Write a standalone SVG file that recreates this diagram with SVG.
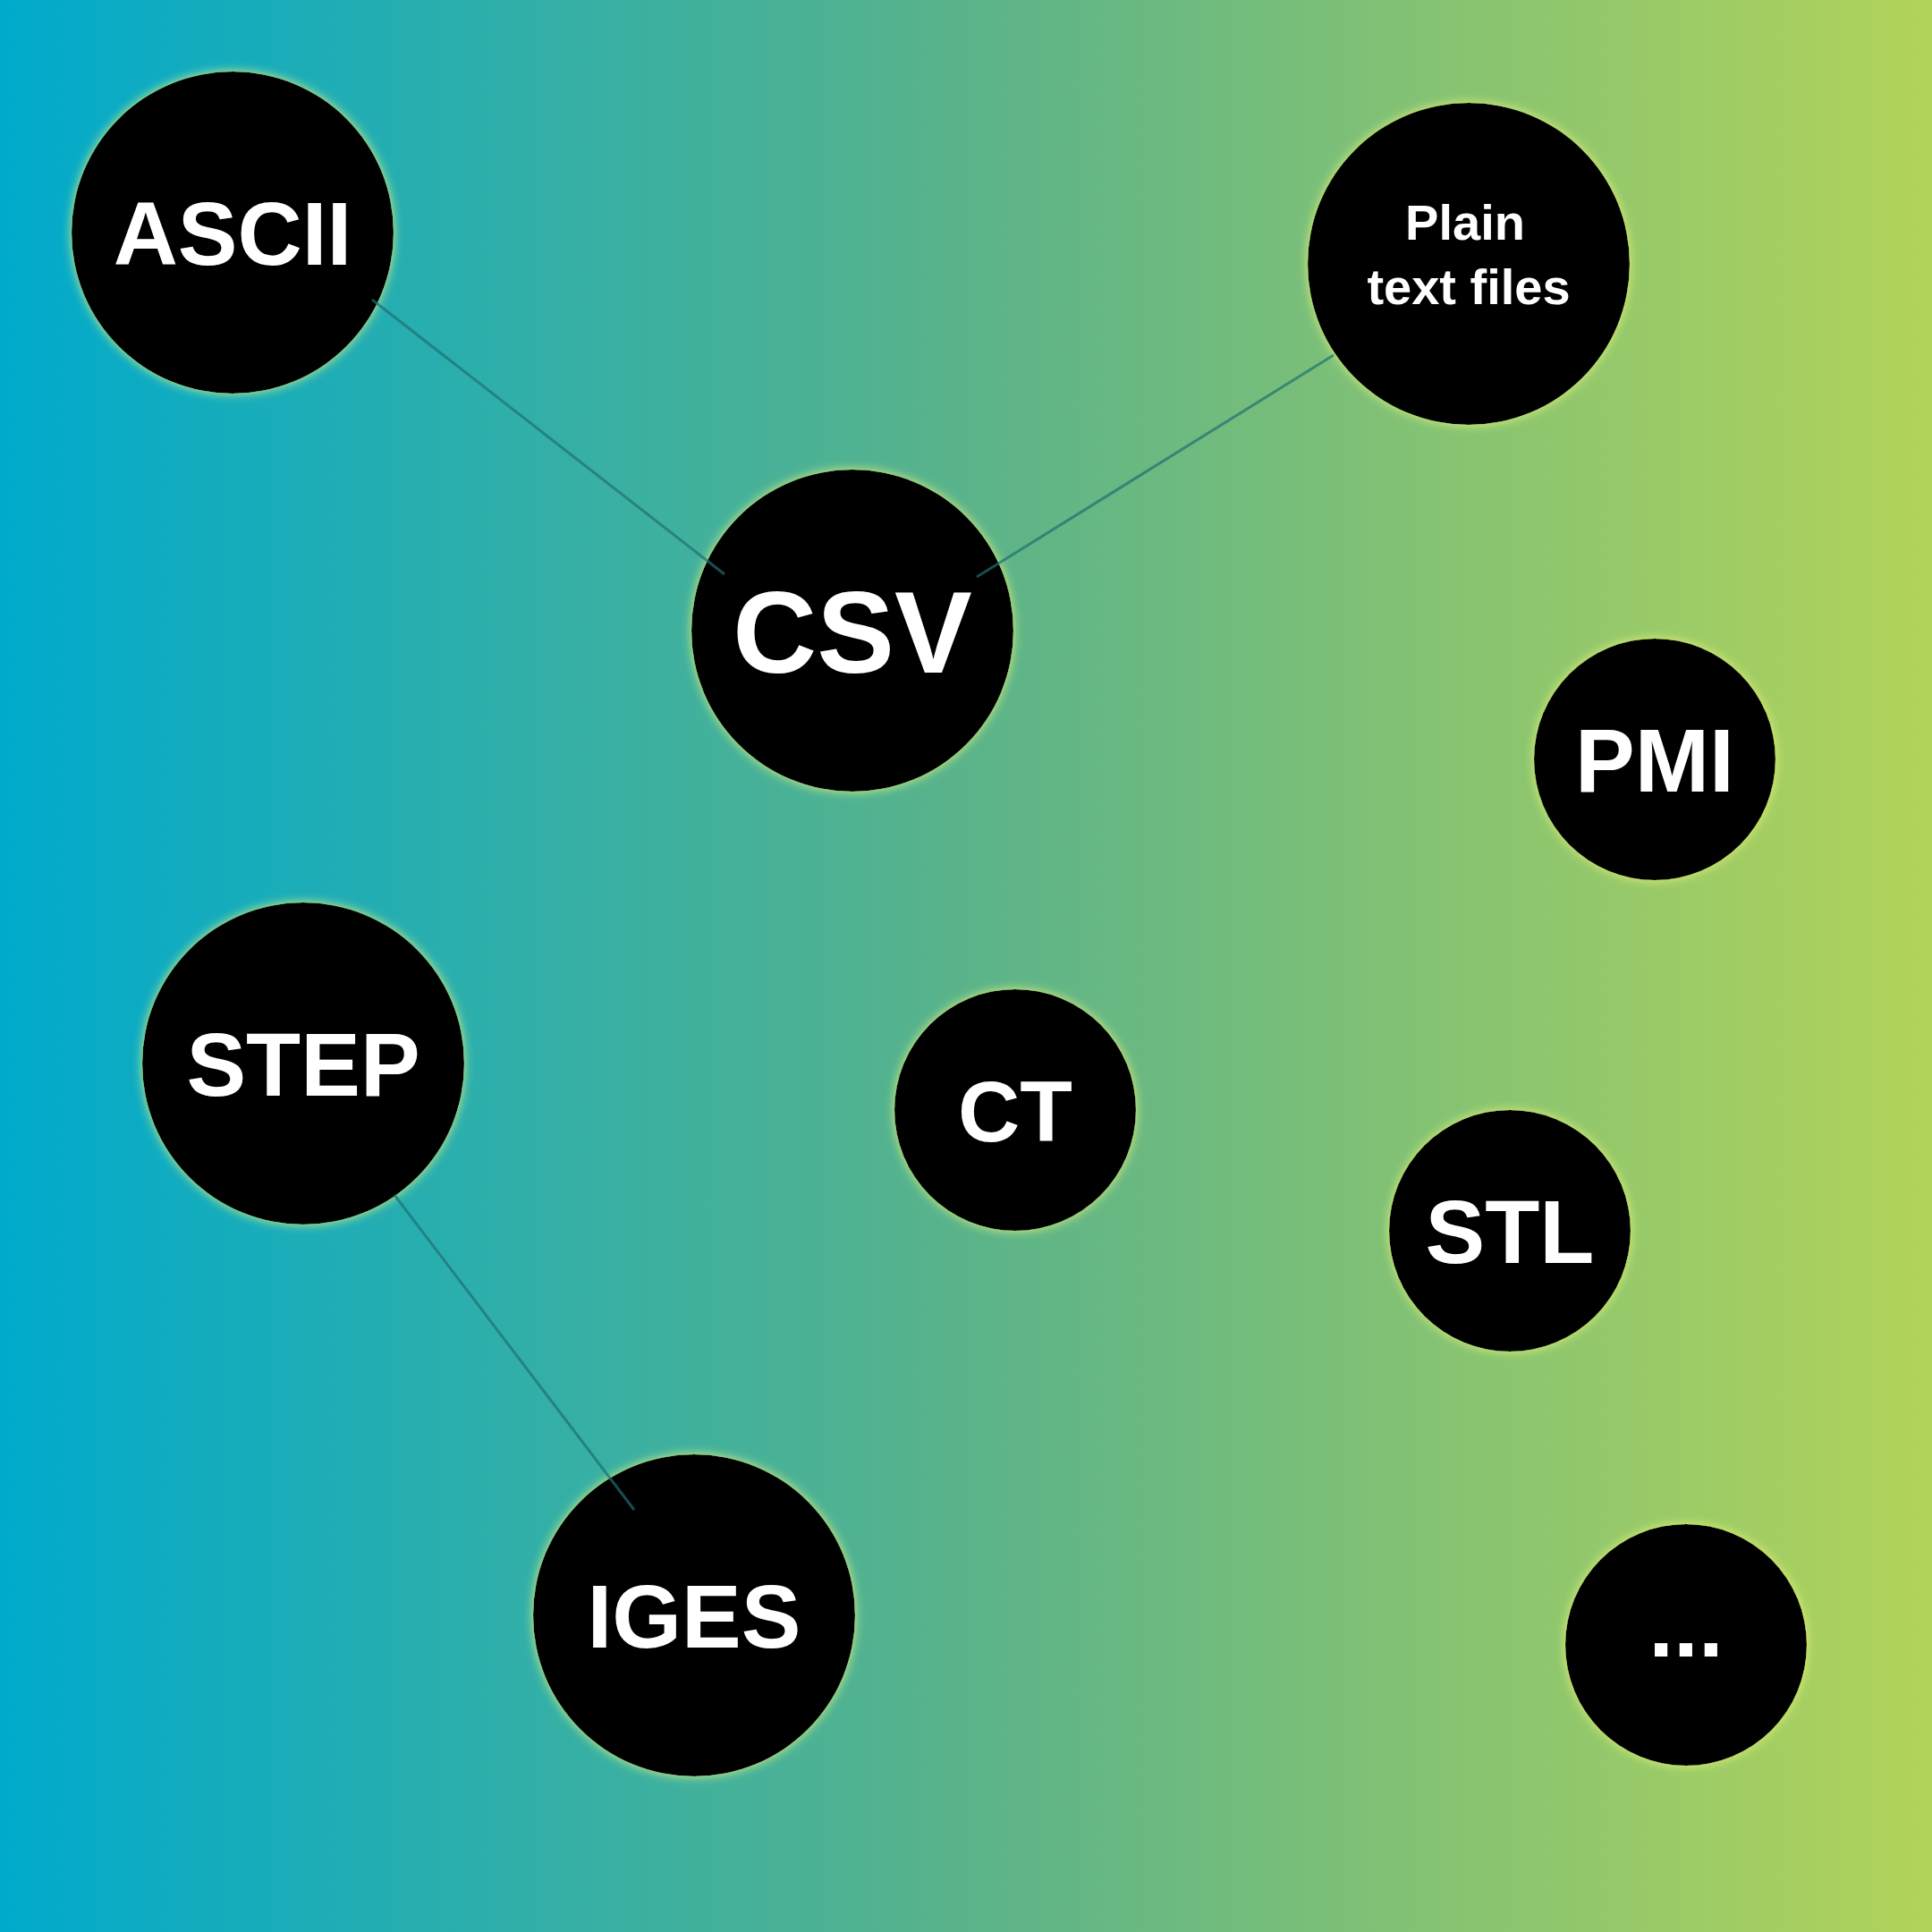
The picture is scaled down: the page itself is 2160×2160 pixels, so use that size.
<svg xmlns="http://www.w3.org/2000/svg" width="2160" height="2160" viewBox="0 0 2160 2160">
<defs>
<linearGradient id="bg" x1="0" y1="0" x2="1" y2="0">
<stop offset="0" stop-color="#00aacc"/>
<stop offset="0.5" stop-color="#5ab38a"/>
<stop offset="1" stop-color="#b2d35a"/>
</linearGradient>
<filter id="glow" x="-20%" y="-20%" width="140%" height="140%">
<feDropShadow dx="0" dy="0" stdDeviation="6" flood-color="#e6f57a" flood-opacity="0.9"/>
</filter>
</defs>
<style>
.n{fill:#000;filter:url(#glow)}
.t{fill:#fff;font-family:"Liberation Sans",Arial,sans-serif;font-weight:bold;text-anchor:middle}
.c{stroke:#1f6f72;stroke-width:3;opacity:0.7;fill:none}
</style>
<rect width="2160" height="2160" fill="url(#bg)"/>
<g id="n-ascii"><circle class="n" cx="260" cy="260" r="180"/><text class="t" x="260" y="296" font-size="100">ASCII</text></g>
<g id="n-plain"><circle class="n" cx="1642" cy="295" r="180"/><text class="t" x="1638" y="268" font-size="56">Plain</text><text class="t" x="1642" y="340" font-size="56">text files</text></g>
<g id="n-csv"><circle class="n" cx="953" cy="705" r="180"/><text class="t" x="953" y="752" font-size="130">CSV</text></g>
<g id="n-pmi"><circle class="n" cx="1850" cy="849" r="135"/><text class="t" x="1850" y="885" font-size="100">PMI</text></g>
<g id="n-step"><circle class="n" cx="339" cy="1189" r="180"/><text class="t" x="339" y="1225" font-size="100">STEP</text></g>
<g id="n-ct"><circle class="n" cx="1135" cy="1241" r="135"/><text class="t" x="1135" y="1276" font-size="96">CT</text></g>
<g id="n-stl"><circle class="n" cx="1688" cy="1376" r="135"/><text class="t" x="1688" y="1412" font-size="100">STL</text></g>
<g id="n-iges"><circle class="n" cx="776" cy="1806" r="180"/><text class="t" x="776" y="1842" font-size="100">IGES</text></g>
<g id="n-more"><circle class="n" cx="1885" cy="1839" r="135"/><text class="t" x="1885" y="1852" font-size="100">...</text></g>
<g id="connectors">
<line class="c" x1="416" y1="335" x2="810" y2="642"/>
<line class="c" x1="1491" y1="397" x2="1092" y2="645"/>
<line class="c" x1="441" y1="1336" x2="709" y2="1688"/>
</g>
</svg>
